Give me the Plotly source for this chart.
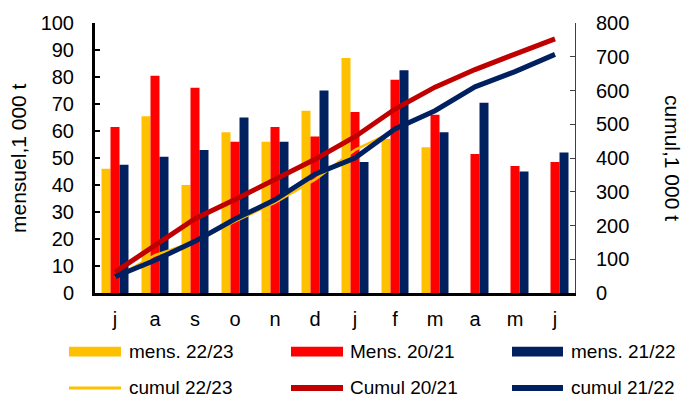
import plotly.graph_objects as go

# Monthly volumes (1 000 t) and cumulative totals per campaign
months = ["j", "a", "s", "o", "n", "d", "j", "f", "m", "a", "m", "j"]

mens_22_23 = [46, 65.5, 40, 59.5, 56, 67.5, 87, 57, 54, None, None, None]
mens_20_21 = [61.5, 80.5, 76, 56, 61.5, 58, 67, 79, 66, 51.5, 47, 48.5]
mens_21_22 = [47.5, 50.5, 53, 65, 56, 75, 48.5, 82.5, 59.5, 70.5, 45, 52]

cumul_22_23 = [46, 112, 152, 212, 268, 336, 424, 481, None, None, None, None]
cumul_20_21 = [62, 143, 220, 277, 338, 396, 463, 545, 610, 662, 708, 753]
cumul_21_22 = [48, 97, 153, 219, 276, 352, 400, 486, 540, 611, 656, 707]

left_ticks = list(range(0, 101, 10))
right_ticks = list(range(0, 801, 100))

YELLOW = "#FFC000"
RED = "#FF0000"
DARK_RED = "#C00000"
NAVY = "#002060"
FONT = "Liberation Sans, Arial, sans-serif"

W, H = 689, 405
L, R, T, B = 95, 114, 17, 112
PW, PH = W - L - R, H - T - B

x = list(range(len(months)))

fig = go.Figure()
for name, vals, col in [("mens. 22/23", mens_22_23, YELLOW),
                        ("Mens. 20/21", mens_20_21, RED),
                        ("mens. 21/22", mens_21_22, NAVY)]:
    fig.add_trace(go.Bar(x=x, y=vals, name=name, marker_color=col,
                         marker_line_width=0, showlegend=False))

for name, vals, col, w in [("cumul 22/23", cumul_22_23, YELLOW, 2.5),
                           ("Cumul 20/21", cumul_20_21, DARK_RED, 5),
                           ("cumul 21/22", cumul_21_22, NAVY, 5)]:
    fig.add_trace(go.Scatter(x=x, y=vals, name=name, mode="lines", yaxis="y2",
                             line=dict(color=col, width=w), showlegend=False,
                             connectgaps=False))


def px_x(p):
    return (p - L) / PW


def px_y(p):
    return (H - B - p) / PH


shapes = []
annotations = []

# Hand-built legend: bar swatches on the first row, line swatches on the second
cols = [(69, 121, 127), (291, 343, 348), (512, 563, 569)]
bar_items = [("mens. 22/23", YELLOW), ("Mens. 20/21", RED), ("mens. 21/22", NAVY)]
line_items = [("cumul 22/23", YELLOW, 3), ("Cumul 20/21", DARK_RED, 6), ("cumul 21/22", NAVY, 6)]
row1, row2 = 353, 390
for (x0, x1, tx), (label, col) in zip(cols, bar_items):
    shapes.append(dict(type="rect", xref="paper", yref="paper",
                       x0=px_x(x0), x1=px_x(x1), y0=px_y(row1 + 5), y1=px_y(row1 - 5),
                       fillcolor=col, line_width=0))
    annotations.append(dict(text=label, xref="paper", yref="paper", x=px_x(tx), y=px_y(row1),
                            xanchor="left", yanchor="middle", showarrow=False,
                            font=dict(size=19, color="black", family=FONT)))
for (x0, x1, tx), (label, col, w) in zip(cols, line_items):
    shapes.append(dict(type="line", xref="paper", yref="paper",
                       x0=px_x(x0), x1=px_x(x1), y0=px_y(row2), y1=px_y(row2),
                       line=dict(color=col, width=w)))
    annotations.append(dict(text=label, xref="paper", yref="paper", x=px_x(tx), y=px_y(row2),
                            xanchor="left", yanchor="middle", showarrow=False,
                            font=dict(size=19, color="black", family=FONT)))

# Axis titles (right one reads top to bottom)
annotations.append(dict(text="mensuel,1 000 t", xref="paper", yref="paper",
                        x=px_x(18), y=0.5, textangle=-90, showarrow=False,
                        xanchor="center", yanchor="middle",
                        font=dict(size=21, color="black", family=FONT)))
annotations.append(dict(text="cumul,1 000 t", xref="paper", yref="paper",
                        x=px_x(673), y=0.5, textangle=90, showarrow=False,
                        xanchor="center", yanchor="middle",
                        font=dict(size=21, color="black", family=FONT)))

fig.update_layout(
    width=W, height=H,
    margin=dict(l=L, r=R, t=T, b=B, pad=0),
    paper_bgcolor="white", plot_bgcolor="white",
    barmode="group", bargap=0.325, bargroupgap=0,
    font=dict(family=FONT, size=20, color="black"),
    shapes=shapes, annotations=annotations,
    xaxis=dict(range=[-0.5, len(months) - 0.5], tickvals=x, ticktext=months,
               showgrid=False, zeroline=False, showline=True, linecolor="black",
               linewidth=3, ticks="", ticklabelstandoff=6,
               tickfont=dict(size=20, family=FONT, color="black")),
    yaxis=dict(range=[0, 100], tickvals=left_ticks, showgrid=False, zeroline=False,
               showline=True, linecolor="black", linewidth=3, ticks="inside",
               ticklen=5, tickwidth=2, tickcolor="black", ticklabelstandoff=14,
               tickfont=dict(size=20, family=FONT, color="black")),
    yaxis2=dict(range=[0, 800], tickvals=right_ticks, overlaying="y", side="right",
                showgrid=False, zeroline=False, showline=True, linecolor="#404040",
                linewidth=1, ticks="inside", ticklen=5, tickwidth=1, tickcolor="#404040",
                ticklabelstandoff=16,
                tickfont=dict(size=20, family=FONT, color="black")),
)

fig.write_html("out.html")
